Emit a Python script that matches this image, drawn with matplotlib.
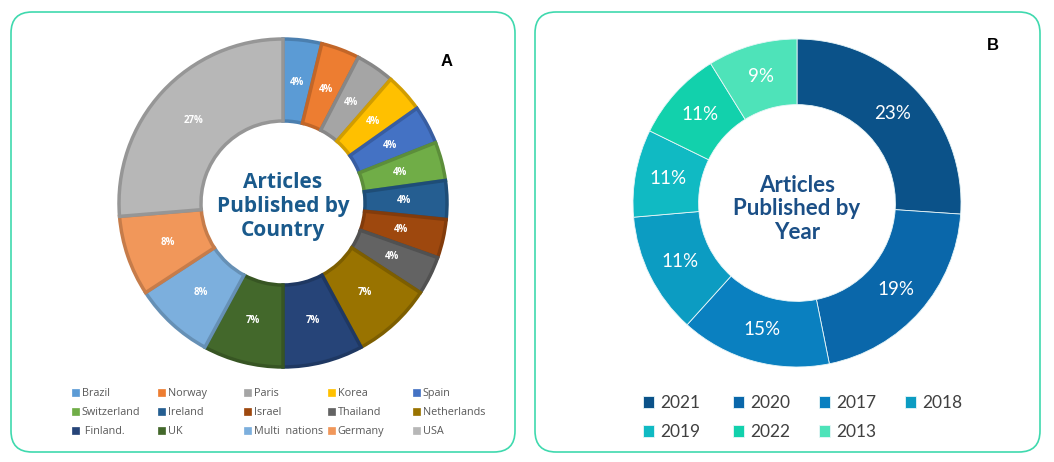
import numpy as np
import matplotlib
matplotlib.use("Agg")
import matplotlib.pyplot as plt
from matplotlib.patches import FancyBboxPatch
from matplotlib.colors import to_rgb

plt.rcParams['font.family'] = ['Open Sans', 'DejaVu Sans']

# data
countries = ['Brazil', 'Norway', 'Paris', 'Korea', 'Spain',
             'Switzerland', 'Ireland', 'Israel', 'Thailand', 'Netherlands',
             ' Finland.', 'UK', 'Multi  nations', 'Germany', 'USA']
country_share = [3.8, 3.8, 3.8, 3.8, 3.8, 3.8, 3.8, 3.8, 3.8, 7.9, 7.9, 7.9, 7.9, 7.9, 26.3]
country_labels = ['4%', '4%', '4%', '4%', '4%', '4%', '4%', '4%', '4%',
                  '7%', '7%', '7%', '8%', '8%', '27%']
country_colors = ['#5B9BD5', '#ED7D31', '#A5A5A5', '#FFC000', '#4472C4',
                  '#70AD47', '#255E91', '#9E480E', '#636363', '#997300',
                  '#264478', '#43682B', '#7CAFDD', '#F1975A', '#B7B7B7']

years = ['2021', '2020', '2017', '2018', '2019', '2022', '2013']
year_share = [26.0, 20.7, 14.8, 11.9, 8.6, 8.9, 8.8]
year_labels = ['23%', '19%', '15%', '11%', '11%', '11%', '9%']
year_colors = ['#0B5289', '#0A67AA', '#0A80C0', '#0C9CC2', '#10BAC3', '#12D1AC', '#4EE3B9']

W, H = 1054, 462
fig = plt.figure(figsize=(W / 100, H / 100), dpi=100)
fig.patch.set_facecolor('white')


def fx(px):
    return px / W


def fy(py):
    return 1 - py / H


# rounded panels
for x0, x1 in [(11, 515), (535, 1040)]:
    box = FancyBboxPatch((fx(x0), fy(452)), fx(x1 - x0), (452 - 12) / H,
                         boxstyle="round,pad=0,rounding_size=0.02",
                         transform=fig.transFigure, facecolor='none',
                         edgecolor='#3FD9AE', linewidth=1.2, mutation_aspect=W / H, zorder=0)
    fig.add_artist(box)


def darker(c, f=0.82):
    r, g, b = to_rgb(c)
    return (r * f, g * f, b * f)


# left donut
cx, cy, r = 283, 203, 164
ax1 = fig.add_axes([fx(cx - r), fy(cy + r), fx(2 * r), 2 * r / H])
wedges1, _ = ax1.pie(country_share, colors=country_colors, startangle=90, counterclock=False,
                     radius=1, wedgeprops=dict(width=0.5, linewidth=2.5))
for w, c in zip(wedges1, country_colors):
    w.set_edgecolor(darker(c))
ax1.set_xlim(-1, 1)
ax1.set_ylim(-1, 1)
ax1.set_aspect('equal')
ax1.axis('off')
for w, lab in zip(wedges1, country_labels):
    ang = np.deg2rad((w.theta1 + w.theta2) / 2)
    ax1.text(0.74 * np.cos(ang), 0.74 * np.sin(ang), lab, ha='center', va='center',
             color='white', fontsize=7, fontweight='bold')
ax1.text(0, -0.02, 'Articles\nPublished by\nCountry', ha='center', va='center',
         fontsize=15, fontweight='bold', color='#1A5A8C', linespacing=1.2)
fig.text(fx(447), fy(62), 'A', ha='center', va='center', fontsize=12, fontweight='bold',
         family='Liberation Sans')

# right donut
cx, cy, r = 797, 203, 164
ax2 = fig.add_axes([fx(cx - r), fy(cy + r), fx(2 * r), 2 * r / H])
wedges2, _ = ax2.pie(year_share, colors=year_colors, startangle=90, counterclock=False,
                     radius=1, wedgeprops=dict(width=0.4, linewidth=0.6, edgecolor='#e8f6f8'))
ax2.set_xlim(-1, 1)
ax2.set_ylim(-1, 1)
ax2.set_aspect('equal')
ax2.axis('off')
for w, lab in zip(wedges2, year_labels):
    ang = np.deg2rad((w.theta1 + w.theta2) / 2)
    ax2.text(0.80 * np.cos(ang), 0.80 * np.sin(ang), lab, ha='center', va='center',
             color='white', fontsize=13.5, family='Lato')
ax2.text(0, -0.035, 'Articles\nPublished by\nYear', ha='center', va='center',
         fontsize=16, fontweight='bold', color='#1B4F86', linespacing=1.15, family='Lato')
fig.text(fx(993), fy(45), 'B', ha='center', va='center', fontsize=12, fontweight='bold',
         family='Liberation Sans')

# left legend, 5 evenly spaced columns
col_x = [72, 158, 244, 328, 413]
for j, x in enumerate(col_x):
    idx = [j, j + 5, j + 10]
    lg = fig.legend([wedges1[i] for i in idx], [countries[i] for i in idx],
                    loc='upper left', bbox_to_anchor=(fx(x), fy(388)), frameon=False,
                    fontsize=7.8, handlelength=0.6, handleheight=0.6, handletextpad=0.3,
                    labelspacing=0.75, borderpad=0, borderaxespad=0, labelcolor='#595959')
    for h, i in zip(lg.legend_handles, idx):
        h.set_edgecolor(country_colors[i])
        h.set_linewidth(0.5)

# right legend, 4 evenly spaced columns
col_x = [643, 733, 819, 905]
for j, x in enumerate(col_x):
    idx = [i for i in (j, j + 4) if i < len(years)]
    lg = fig.legend([wedges2[i] for i in idx], [years[i] for i in idx],
                    loc='upper left', bbox_to_anchor=(fx(x), fy(395)), frameon=False,
                    handlelength=0.65, handleheight=0.65, handletextpad=0.35,
                    labelspacing=0.75, borderpad=0, borderaxespad=0, labelcolor='#404040',
                    prop={'family': 'Lato', 'size': 12.5})

fig.savefig('out.png', dpi=100, facecolor='white')
